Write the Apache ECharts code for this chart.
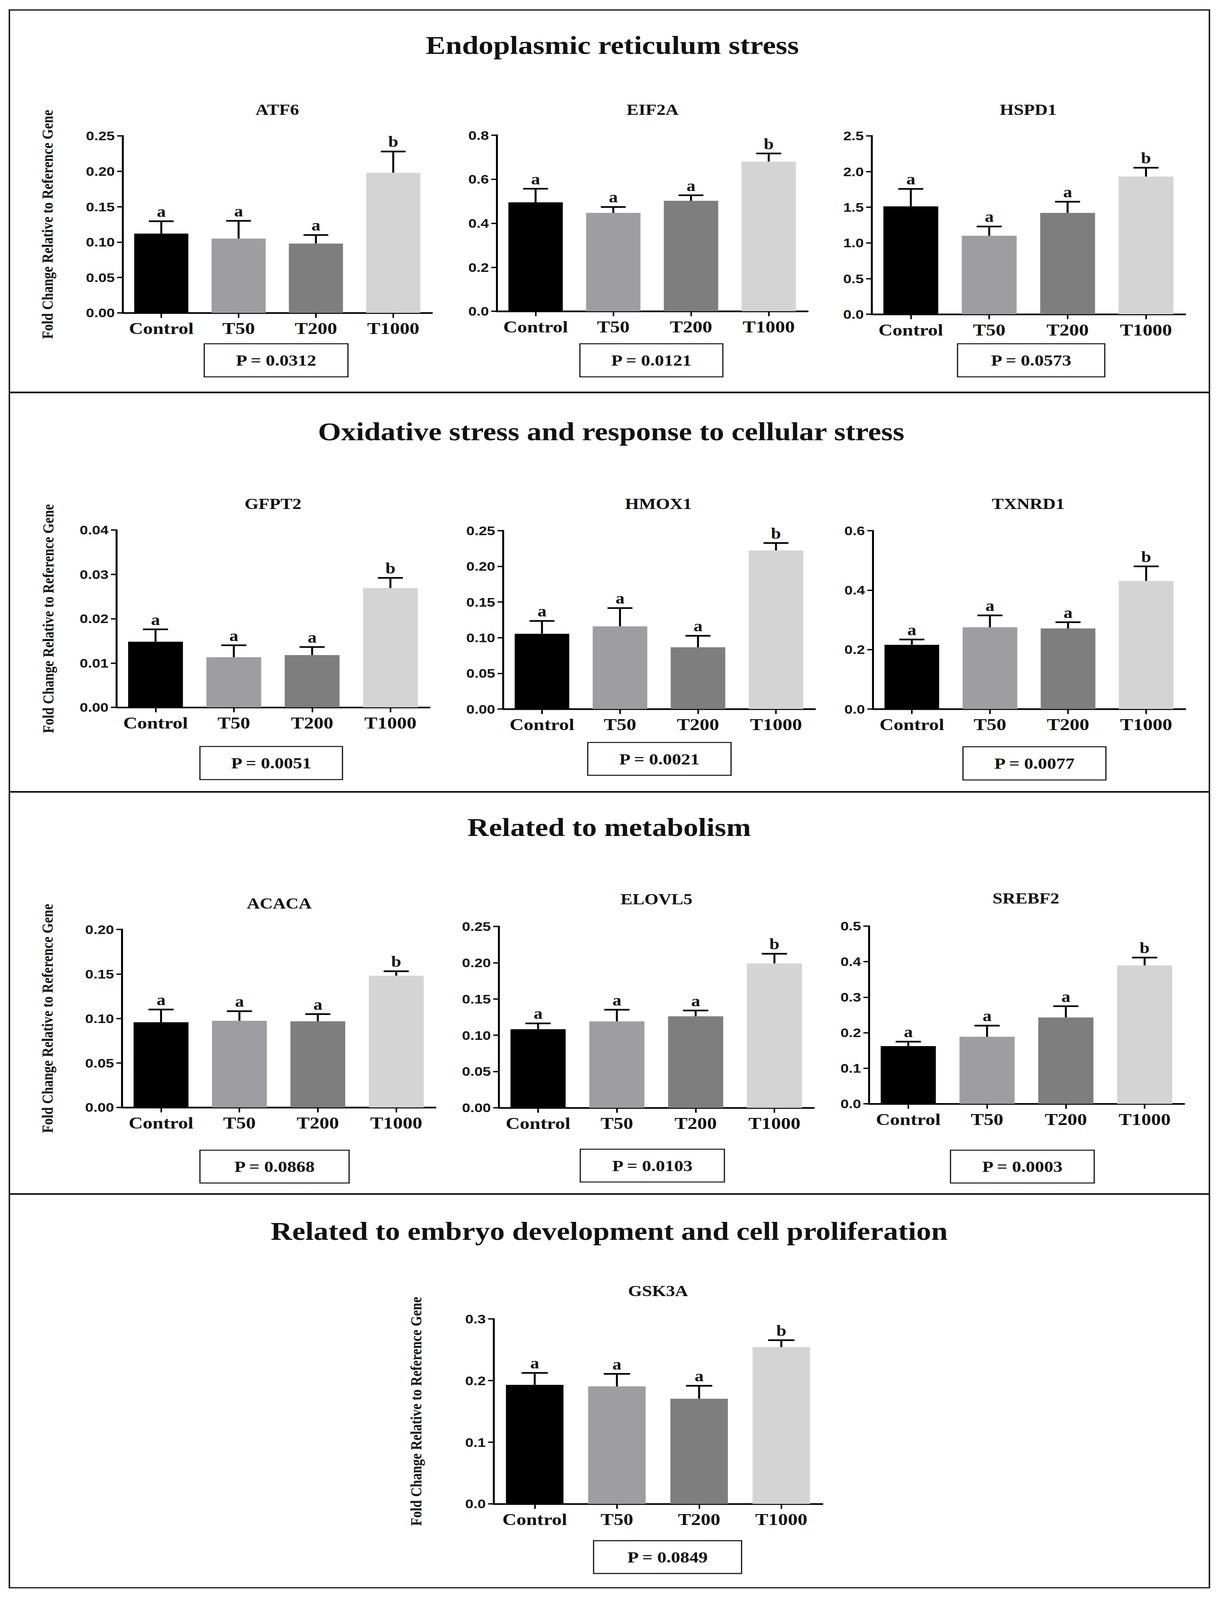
<!DOCTYPE html>
<html>
<head>
<meta charset="utf-8">
<script src="https://cdn.jsdelivr.net/npm/echarts@6/dist/echarts.min.js"></script>
<style>
html,body{margin:0;padding:0;background:#fff;overflow:hidden;}
#chart{width:3119px;height:4827px;transform-origin:0 0;}
</style>
</head>
<body>
<div id="chart"></div>
<script>
// ---------- DATA ----------
const categories = ['Control', 'T50', 'T200', 'T1000'];
const sectionTitles = [
  'Endoplasmic reticulum stress',
  'Oxidative stress and response to cellular stress',
  'Related to metabolism',
  'Related to embryo development and cell proliferation'
];
const genes = ['ATF6', 'EIF2A', 'HSPD1', 'GFPT2', 'HMOX1', 'TXNRD1', 'ACACA', 'ELOVL5', 'SREBF2', 'GSK3A'];

const atf6Mean   = [0.112, 0.105, 0.098, 0.198];
const atf6Sem    = [0.0175, 0.025, 0.012, 0.030];
const eif2aMean  = [0.495, 0.447, 0.502, 0.680];
const eif2aSem   = [0.062, 0.027, 0.025, 0.037];
const hspd1Mean  = [1.512, 1.100, 1.421, 1.930];
const hspd1Sem   = [0.245, 0.130, 0.157, 0.124];
const gfpt2Mean  = [0.0148, 0.0113, 0.0118, 0.0269];
const gfpt2Sem   = [0.0028, 0.0027, 0.0018, 0.0023];
const hmox1Mean  = [0.1055, 0.1159, 0.0866, 0.2223];
const hmox1Sem   = [0.018, 0.0256, 0.016, 0.0104];
const txnrd1Mean = [0.216, 0.275, 0.271, 0.431];
const txnrd1Sem  = [0.018, 0.040, 0.021, 0.049];
const acacaMean  = [0.0957, 0.0973, 0.0968, 0.148];
const acacaSem   = [0.0143, 0.0109, 0.0081, 0.005];
const elovl5Mean = [0.1084, 0.1191, 0.1261, 0.199];
const elovl5Sem  = [0.008, 0.0161, 0.008, 0.0134];
const srebf2Mean = [0.1625, 0.1887, 0.2429, 0.3895];
const srebf2Sem  = [0.0125, 0.0313, 0.0317, 0.0219];
const gsk3aMean  = [0.1931, 0.1906, 0.1706, 0.2543];
const gsk3aSem   = [0.0193, 0.0202, 0.0209, 0.0112];

const letters = ['a', 'a', 'a', 'b'];
const pValues = ['0.0312', '0.0121', '0.0573', '0.0051', '0.0021', '0.0077', '0.0868', '0.0103', '0.0003', '0.0849'];

// y-axis scales
const yMaxes     = [0.25, 0.8, 2.5, 0.04, 0.25, 0.6, 0.20, 0.25, 0.5, 0.3];
const yIntervals = [0.05, 0.2, 0.5, 0.01, 0.05, 0.2, 0.05, 0.05, 0.1, 0.1];
const yDecimals  = [2, 1, 1, 2, 2, 1, 2, 2, 1, 1];

const yAxisTitle = 'Fold Change Relative to Reference Gene';

const means = [atf6Mean, eif2aMean, hspd1Mean, gfpt2Mean, hmox1Mean, txnrd1Mean, acacaMean, elovl5Mean, srebf2Mean, gsk3aMean];
const sems  = [atf6Sem, eif2aSem, hspd1Sem, gfpt2Sem, hmox1Sem, txnrd1Sem, acacaSem, elovl5Sem, srebf2Sem, gsk3aSem];

// ---------- LAYOUT / STYLE ----------
const W = 3119, H = 4827;
const barColors = ['#000000', '#9e9ea2', '#7e7e7e', '#d4d4d4'];
const SERIF = '"Liberation Serif", "Times New Roman", serif';
const SANS = '"Liberation Sans", Arial, sans-serif';

const layouts = [
  { grid: [314, 410, 792, 534],  title: [710, 331],  box: [523, 1037, 368, 100],  nameGap: 172 },
  { grid: [1272, 408, 796, 531], title: [1671, 331], box: [1485, 1037, 366, 100], nameGap: null },
  { grid: [2232, 410, 803, 538], title: [2633, 331], box: [2452, 1037, 377, 100], nameGap: null },
  { grid: [298, 1599, 802, 535], title: [699, 1520], box: [512, 2252, 365, 100],  nameGap: 154 },
  { grid: [1288, 1601, 799, 538], title: [1686, 1520], box: [1505, 2240, 367, 99], nameGap: null },
  { grid: [2235, 1601, 800, 538], title: [2633, 1520], box: [2466, 2253, 366, 100], nameGap: null },
  { grid: [312, 2804, 803, 537], title: [715, 2725], box: [512, 3470, 382, 99],  nameGap: 170 },
  { grid: [1277, 2795, 807, 547], title: [1681, 2713], box: [1486, 3467, 369, 99], nameGap: null },
  { grid: [2225, 2794, 807, 536], title: [2627, 2710], box: [2434, 3470, 368, 99], nameGap: null },
  { grid: [1264, 3979, 842, 558], title: [1685, 3895], box: [1520, 4648, 379, 99], nameGap: 178 }
];
const sectionLayout = [[1568, 137], [1565, 1302], [1560, 2496], [1560, 3715]];
const dividersY = [1184, 2389, 3602];

// The browser viewport may be shorter than the figure; squeeze vertically so the whole figure is photographed.
const el = document.getElementById('chart');
const vh = window.innerHeight || H;
const sy = Math.min(1, vh / H);
el.style.transform = 'scaleY(' + sy + ')';

// ---------- BUILD ----------
const grid = [], xAxis = [], yAxis = [], series = [], graphic = [];

layouts.forEach((L, i) => {
  grid.push({ left: L.grid[0], top: L.grid[1], width: L.grid[2], height: L.grid[3], containLabel: false });
  xAxis.push({
    type: 'category', gridIndex: i, data: categories,
    axisLine: { show: true, onZero: false, lineStyle: { color: '#000', width: 5 } },
    axisTick: { show: true, alignWithLabel: true, interval: 0, length: 15, lineStyle: { color: '#000', width: 4 } },
    axisLabel: { interval: 0, hideOverlap: false, color: '#111', fontFamily: SERIF, fontWeight: 'bold', fontSize: 50, margin: 22 },
    splitLine: { show: false }
  });
  const dec = yDecimals[i];
  yAxis.push({
    type: 'value', gridIndex: i, min: 0, max: yMaxes[i], interval: yIntervals[i],
    axisLine: { show: true, lineStyle: { color: '#000', width: 5 } },
    axisTick: { show: true, length: 14, lineStyle: { color: '#000', width: 4 } },
    axisLabel: { color: '#111', fontFamily: SANS, fontWeight: 'bold', fontSize: 38, margin: 20,
      formatter: v => v.toFixed(dec) },
    splitLine: { show: false },
    name: L.nameGap !== null ? yAxisTitle : '',
    nameLocation: 'middle', nameRotate: 90, nameGap: L.nameGap || 0,
    nameTextStyle: { color: '#111', fontFamily: SERIF, fontWeight: 'bold', fontSize: 40 }
  });
  series.push({
    type: 'bar', xAxisIndex: i, yAxisIndex: i, barCategoryGap: '30%',
    data: means[i].map((v, k) => ({ value: v, itemStyle: { color: barColors[k] } })),
    silent: true, animation: false, z: 2
  });
  series.push({
    type: 'custom', xAxisIndex: i, yAxisIndex: i, animation: false, silent: true, z: 3,
    data: means[i].map((v, k) => [k, v, sems[i][k]]),
    renderItem: (params, api) => {
      const k = api.value(0), m = api.value(1), s = api.value(2);
      const base = api.coord([k, m]);
      const top = api.coord([k, m + s]);
      const hw = api.size([1, 0])[0] * 0.16;
      return {
        type: 'group',
        children: [
          { type: 'line', shape: { x1: base[0], y1: base[1], x2: top[0], y2: top[1] },
            style: { stroke: '#000', lineWidth: 5 } },
          { type: 'line', shape: { x1: top[0] - hw, y1: top[1], x2: top[0] + hw, y2: top[1] },
            style: { stroke: '#000', lineWidth: 5 } },
          { type: 'text', x: top[0], y: top[1] - 6,
            style: { text: letters[k], align: 'center', verticalAlign: 'bottom',
              fontFamily: SERIF, fontWeight: 'bold', fontSize: 46, fill: '#111' } }
        ]
      };
    }
  });
  graphic.push({ type: 'text', x: L.title[0], y: L.title[1],
    style: { text: genes[i], align: 'center', verticalAlign: 'middle',
      fontFamily: SERIF, fontWeight: 'bold', fontSize: 46, fill: '#111' } });
  graphic.push({ type: 'rect', shape: { x: L.box[0], y: L.box[1], width: L.box[2], height: L.box[3] },
    style: { fill: 'none', stroke: '#111', lineWidth: 3 } });
  graphic.push({ type: 'text', x: L.box[0] + L.box[2] / 2, y: L.box[1] + L.box[3] / 2,
    style: { text: 'P = ' + pValues[i], align: 'center', verticalAlign: 'middle',
      fontFamily: SERIF, fontWeight: 'bold', fontSize: 47, fill: '#111' } });
});

graphic.push({ type: 'rect', shape: { x: 24, y: 30, width: 3073, height: 4760 },
  style: { fill: 'none', stroke: '#222', lineWidth: 4 } });
dividersY.forEach(y => graphic.push({ type: 'line', shape: { x1: 24, y1: y, x2: 3097, y2: y },
  style: { stroke: '#111', lineWidth: 5 } }));
sectionTitles.forEach((t, i) => graphic.push({ type: 'text', x: sectionLayout[i][0], y: sectionLayout[i][1],
  style: { text: t, align: 'center', verticalAlign: 'middle',
    fontFamily: SERIF, fontWeight: 'bold', fontSize: 76, fill: '#111' } }));

const chart = echarts.init(el, null, { renderer: 'svg', width: W, height: H });
chart.setOption({
  backgroundColor: '#ffffff',
  animation: false,
  grid, xAxis, yAxis, series, graphic
});
</script>
</body>
</html>
